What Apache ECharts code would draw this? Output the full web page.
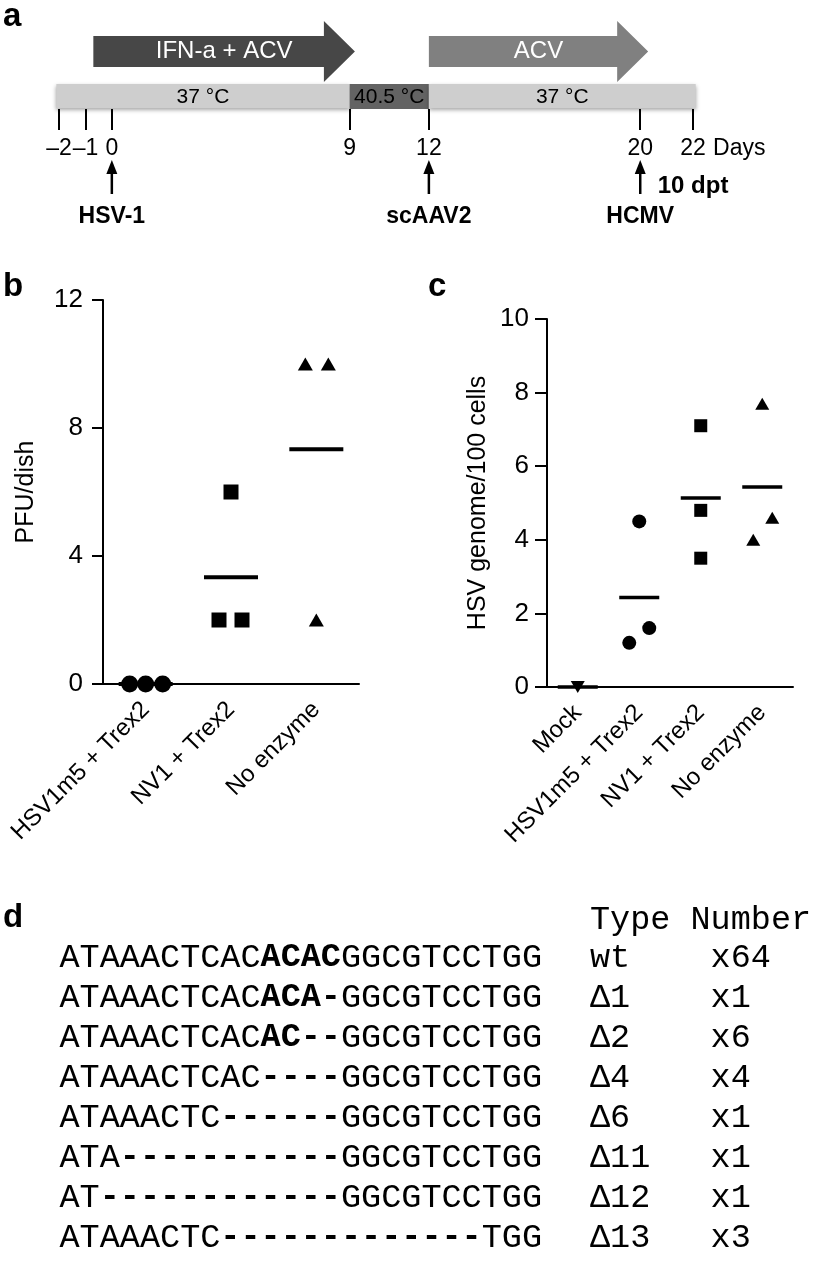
<!DOCTYPE html>
<html><head><meta charset="utf-8">
<script src="https://cdn.jsdelivr.net/npm/echarts@6/dist/echarts.min.js"></script>
<style>html,body{margin:0;padding:0;background:#fff}#main{width:819px;height:1274px}</style>
</head><body><div id="main"></div>
<script>
// ================= DATA =================
// Panel a: experimental timeline (days)
const timelineTicks = [-2, -1, 0, 9, 12, 20, 22];
const timelineUnit = 'Days';
const phaseLabels = ['37 °C', '40.5 °C', '37 °C'];
const phaseStart = [-2.1, 9, 12];
const phaseEnd = [9, 12, 22.1];
const treatmentLabels = ['IFN-a + ACV', 'ACV'];
const treatmentStart = [-0.7, 12];
const treatmentEnd = [9.2, 20.3];
const eventLabels = ['HSV-1', 'scAAV2', 'HCMV'];
const eventDays = [0, 12, 20];
const noteLabels = ['10 dpt'];
const noteDays = [22];

// Panel b: PFU/dish
const bCategories = ['HSV1m5 + Trex2', 'NV1 + Trex2', 'No enzyme'];
const bValues = [[0, 0, 0], [6, 2, 2], [10, 10, 2]];

// Panel c: HSV genome/100 cells
const cCategories = ['Mock', 'HSV1m5 + Trex2', 'NV1 + Trex2', 'No enzyme'];
const cValues = [[0], [4.5, 1.2, 1.6], [7.1, 4.8, 3.5], [7.7, 4.6, 4.0]];

// Panel d: sequences (plain prefix, bold core, plain suffix), type, number
const seqPrefix = ['ATAAACTCAC', 'ATAAACTCAC', 'ATAAACTCAC', 'ATAAACTCAC', 'ATAAACTC', 'ATA', 'AT', 'ATAAACTC'];
const seqCore = ['ACAC', 'ACA-', 'AC--', '----', '------', '-----------', '------------', '-------------'];
const seqSuffix = ['GGCGTCCTGG', 'GGCGTCCTGG', 'GGCGTCCTGG', 'GGCGTCCTGG', 'GGCGTCCTGG', 'GGCGTCCTGG', 'GGCGTCCTGG', 'TGG'];
const mutationTypes = ['wt', 'Δ1', 'Δ2', 'Δ4', 'Δ6', 'Δ11', 'Δ12', 'Δ13'];
const mutationCounts = ['x64', 'x1', 'x6', 'x4', 'x1', 'x1', 'x1', 'x3'];

// ================= LAYOUT / STYLE =================
const SANS = '"Liberation Sans", Arial, Helvetica, sans-serif';
const MONO = '"Liberation Mono", "Courier New", monospace';
// horizontal jitter (px) of the dots within each group
const bJitter = [[-16, 0, 17], [0, -12, 11], [-11, 12, 0]];
const cJitter = [[0], [0, -10, 10], [0, 0, 0], [0, 10, -9]];
const bSymbols = [['circle', 17, 0], ['rect', 15, 0], ['triangle', [15, 13], 0]];
const cSymbols = [['triangle', [14, 12], 180], ['circle', 14, 0], ['rect', 13, 0], ['triangle', [14, 12], 0]];

const mean = a => a.reduce((s, v) => s + v, 0) / a.length;

function pointSeries(values, jitter, symbols, xi, yi) {
  const data = [];
  values.forEach((grp, i) => grp.forEach((v, j) => {
    data.push({
      value: [i, v],
      symbol: symbols[i][0], symbolSize: symbols[i][1], symbolRotate: symbols[i][2],
      symbolOffset: [jitter[i][j], 0]
    });
  }));
  return { type: 'scatter', xAxisIndex: xi, yAxisIndex: yi, data, z: 3, silent: true,
    itemStyle: { color: '#000', opacity: 1 } };
}
function meanSeries(values, xi, yi, size) {
  return { type: 'scatter', xAxisIndex: xi, yAxisIndex: yi, z: 2, silent: true,
    symbol: 'rect', symbolSize: size, itemStyle: { color: '#000', opacity: 1 },
    data: values.map((g, i) => [i, mean(g)]) };
}

const axisBlack = { color: '#000', width: 2 };
const letterStyle = { fontFamily: SANS, fontSize: 33, fontWeight: 'bold', color: '#000' };

const option = {
  animation: false,
  backgroundColor: '#fff',
  title: [
    { text: 'a', left: 3, top: 0, padding: 0, textStyle: letterStyle },
    { text: 'b', left: 3, top: 270, padding: 0, textStyle: letterStyle },
    { text: 'c', left: 428, top: 270, padding: 0, textStyle: letterStyle },
    { text: 'd', left: 3, top: 901, padding: 0, textStyle: letterStyle },
    { text: 'Type Number', left: 590, top: 903, padding: 0, textStyle: { fontFamily: MONO, fontSize: 33.5, fontWeight: 'normal', color: '#000', lineHeight: 34 } }
  ],
  grid: [
    { left: 59, top: 0, width: 642, height: 109 },
    { left: 103, top: 300, width: 256, height: 384 },
    { left: 547, top: 319, width: 246, height: 368 },
    { left: 552, top: 938, width: 28, height: 320 }
  ],
  xAxis: [
    { gridIndex: 0, type: 'value', min: -2, max: 22.3,
      axisLine: { show: false }, splitLine: { show: false },
      axisTick: { show: true, customValues: timelineTicks, length: 21, lineStyle: axisBlack },
      axisLabel: { customValues: timelineTicks, margin: 28, fontFamily: SANS, fontSize: 23, color: '#000',
        showMinLabel: true, showMaxLabel: true, hideOverlap: false,
        formatter: v => v < 0 ? '–' + Math.abs(v) : String(v) } },
    { gridIndex: 1, type: 'category', data: bCategories,
      axisLine: { lineStyle: axisBlack },
      axisTick: { alignWithLabel: true, length: 13, lineStyle: axisBlack },
      axisLabel: { rotate: 45, margin: 22, fontFamily: SANS, fontSize: 24, color: '#000', interval: 0 } },
    { gridIndex: 2, type: 'category', data: cCategories,
      axisLine: { lineStyle: axisBlack },
      axisTick: { alignWithLabel: true, length: 13, lineStyle: axisBlack },
      axisLabel: { rotate: 45, margin: 22, fontFamily: SANS, fontSize: 24, color: '#000', interval: 0 } },
    { gridIndex: 3, type: 'value', min: 0, max: 1, show: false }
  ],
  yAxis: [
    { gridIndex: 0, type: 'value', min: 0, max: 1, show: false },
    { gridIndex: 1, type: 'value', min: 0, max: 12, interval: 4,
      axisLine: { show: true, lineStyle: axisBlack },
      axisTick: { show: true, length: 11, lineStyle: axisBlack },
      splitLine: { show: false },
      axisLabel: { margin: 20, fontFamily: SANS, fontSize: 26, color: '#000' },
      name: 'PFU/dish', nameLocation: 'middle', nameGap: 64,
      nameTextStyle: { fontFamily: SANS, fontSize: 25, color: '#000' } },
    { gridIndex: 2, type: 'value', min: 0, max: 10, interval: 2,
      axisLine: { show: true, lineStyle: axisBlack },
      axisTick: { show: true, length: 12, lineStyle: axisBlack },
      splitLine: { show: false },
      axisLabel: { margin: 18, fontFamily: SANS, fontSize: 26, color: '#000' },
      name: 'HSV genome/100 cells', nameLocation: 'middle', nameGap: 56,
      nameTextStyle: { fontFamily: SANS, fontSize: 25, color: '#000' } },
    { gridIndex: 3, type: 'category', inverse: true, data: mutationTypes, position: 'left',
      axisLine: { show: false }, axisTick: { show: false }, splitLine: { show: false },
      axisLabel: { margin: 10, interval: 0,
        formatter: (v, i) => '{n|' + seqPrefix[i] + '}{b|' + seqCore[i] + '}' + (seqSuffix[i] ? '{n|' + seqSuffix[i] + '}' : ''),
        rich: { n: { fontFamily: MONO, fontSize: 33.5, color: '#000' },
                b: { fontFamily: MONO, fontSize: 33.5, fontWeight: 'bold', color: '#000' } } } },
    { gridIndex: 3, type: 'category', inverse: true, data: mutationTypes, position: 'right',
      axisLine: { show: false }, axisTick: { show: false }, splitLine: { show: false },
      axisLabel: { margin: 10, interval: 0, fontFamily: MONO, fontSize: 33.5, color: '#000' } },
    { gridIndex: 3, type: 'category', inverse: true, data: mutationTypes, position: 'right', offset: 120.6,
      axisLine: { show: false }, axisTick: { show: false }, splitLine: { show: false },
      axisLabel: { margin: 10, interval: 0, fontFamily: MONO, fontSize: 33.5, color: '#000',
        formatter: (v, i) => mutationCounts[i] } }
  ],
  series: [
    // temperature phases
    { type: 'custom', xAxisIndex: 0, yAxisIndex: 0, silent: true, z: 1,
      data: phaseStart.map((s, i) => [s, phaseEnd[i], i]),
      renderItem: (params, api) => {
        const base = params.coordSys.y + params.coordSys.height;
        const x0 = api.coord([api.value(0), 0])[0];
        const x1 = api.coord([api.value(1), 0])[0];
        const i = api.value(2);
        const hot = phaseLabels[i] !== '37 °C';
        return { type: 'group', children: [
          { type: 'rect', shape: { x: x0, y: base - 25, width: x1 - x0, height: hot ? 25 : 24 },
            style: hot ? { fill: '#636363' } : { fill: '#cecece', shadowBlur: 4, shadowOffsetY: 2, shadowColor: 'rgba(0,0,0,0.35)' } },
          { type: 'text', z2: 5, style: { text: phaseLabels[i], x: (x0 + x1) / 2, y: base - 12, align: 'center', verticalAlign: 'middle',
            fill: '#000', fontFamily: SANS, fontSize: 21 } }
        ] };
      } },
    // treatment arrows
    { type: 'custom', xAxisIndex: 0, yAxisIndex: 0, silent: true, z: 2,
      data: treatmentStart.map((s, i) => [s, treatmentEnd[i], i]),
      renderItem: (params, api) => {
        const base = params.coordSys.y + params.coordSys.height;
        const x0 = api.coord([api.value(0), 0])[0];
        const xt = api.coord([api.value(1), 0])[0];
        const xh = xt - 31;
        const i = api.value(2);
        const yt = base - 73, yb = base - 42, ht = base - 88, hb = base - 27, ym = base - 57.5;
        return { type: 'group', children: [
          { type: 'polygon', shape: { points: [[x0, yt], [xh, yt], [xh, ht], [xt, ym], [xh, hb], [xh, yb], [x0, yb]] },
            style: { fill: i === 0 ? '#474747' : '#808080' } },
          { type: 'text', z2: 5, style: { text: treatmentLabels[i], x: (x0 + xt) / 2, y: ym, align: 'center', verticalAlign: 'middle',
            fill: '#fff', fontFamily: SANS, fontSize: 24 } }
        ] };
      } },
    // infection / transduction events
    { type: 'custom', xAxisIndex: 0, yAxisIndex: 0, silent: true, z: 2,
      data: eventDays.map((d, i) => [d, i]),
      renderItem: (params, api) => {
        const base = params.coordSys.y + params.coordSys.height;
        const x = api.coord([api.value(0), 0])[0];
        const i = api.value(1);
        return { type: 'group', children: [
          { type: 'line', shape: { x1: x, y1: base + 85, x2: x, y2: base + 62 }, style: { stroke: '#000', lineWidth: 2.5 } },
          { type: 'polygon', shape: { points: [[x - 5.5, base + 65], [x + 5.5, base + 65], [x, base + 51]] }, style: { fill: '#000' } },
          { type: 'text', style: { text: eventLabels[i], x: x, y: base + 108, align: 'center', verticalAlign: 'middle',
            fill: '#000', fontFamily: SANS, fontSize: 23, fontWeight: 'bold' } }
        ] };
      } },
    // unit label and note at the last day
    { type: 'custom', xAxisIndex: 0, yAxisIndex: 0, silent: true, z: 2,
      data: noteDays.map((d, i) => [d, i]),
      renderItem: (params, api) => {
        const base = params.coordSys.y + params.coordSys.height;
        const x = api.coord([api.value(0), 0])[0];
        return { type: 'group', children: [
          { type: 'text', style: { text: timelineUnit, x: x + 20, y: base + 40, align: 'left', verticalAlign: 'middle',
            fill: '#000', fontFamily: SANS, fontSize: 23 } },
          { type: 'text', style: { text: noteLabels[api.value(1)], x: x, y: base + 77, align: 'center', verticalAlign: 'middle',
            fill: '#000', fontFamily: SANS, fontSize: 24, fontWeight: 'bold' } }
        ] };
      } },
    // panel b
    meanSeries(bValues, 1, 1, [54, 4]),
    pointSeries(bValues, bJitter, bSymbols, 1, 1),
    // panel c
    meanSeries(cValues, 2, 2, [40, 3.5]),
    pointSeries(cValues, cJitter, cSymbols, 2, 2)
  ]
};

const chart = echarts.init(document.getElementById('main'), null, { renderer: 'canvas' });
chart.setOption(option);
</script>
</body></html>
